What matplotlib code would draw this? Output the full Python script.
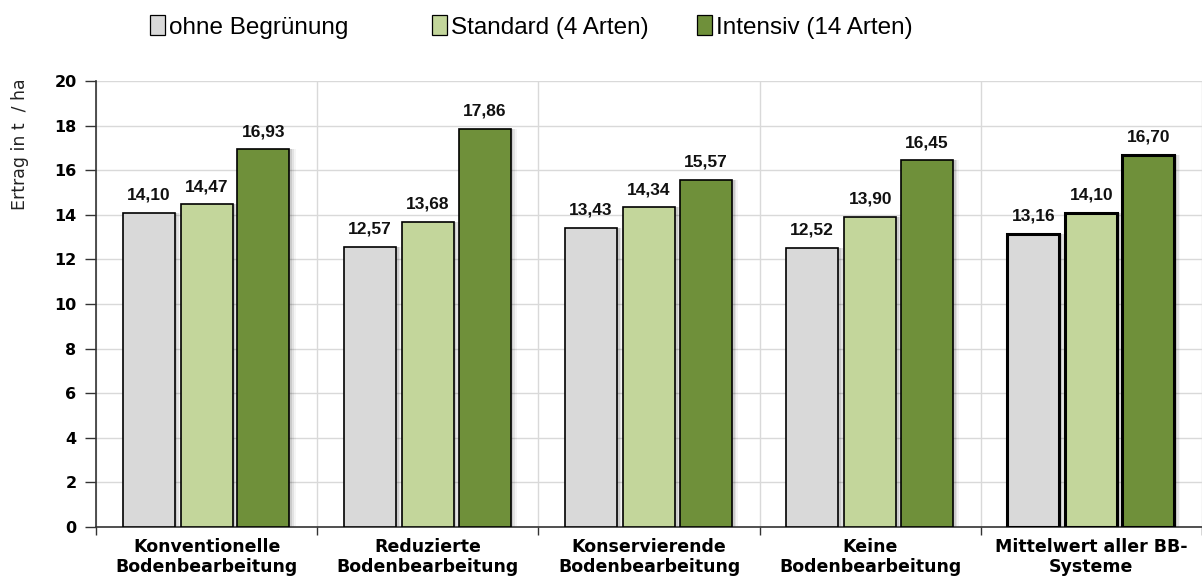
import matplotlib
matplotlib.use("Agg")
import matplotlib.pyplot as plt
import numpy as np
from matplotlib.patches import Patch

categories = ["Konventionelle\nBodenbearbeitung", "Reduzierte\nBodenbearbeitung",
              "Konservierende\nBodenbearbeitung", "Keine\nBodenbearbeitung",
              "Mittelwert aller BB-\nSysteme"]
series_names = ["ohne Begrünung", "Standard (4 Arten)", "Intensiv (14 Arten)"]
ohne = [14.10, 12.57, 13.43, 12.52, 13.16]
standard = [14.47, 13.68, 14.34, 13.90, 14.10]
intensiv = [16.93, 17.86, 15.57, 16.45, 16.70]
yticks = [0, 2, 4, 6, 8, 10, 12, 14, 16, 18, 20]

colors = ["#d9d9d9", "#c3d69b", "#6f903a"]
values = [ohne, standard, intensiv]

fig = plt.figure(figsize=(12.02, 5.81), dpi=100)
ax = fig.add_axes([0.0799, 0.0929, 0.9201, 0.7677])

x = np.arange(len(categories))
offsets = [-0.262, 0.0, 0.257]
width = 0.235

for vals, col, off, name in zip(values, colors, offsets, series_names):
    for i, v in enumerate(vals):
        lw = 2.2 if i == len(categories) - 1 else 1.2
        # soft drop shadow
        for k, a in enumerate([0.10, 0.07, 0.04]):
            ax.bar(x[i] + off + 0.012 + 0.008 * k, v, width, color="black",
                   alpha=a, linewidth=0, zorder=2)
        ax.bar(x[i] + off, v, width, color=col, edgecolor="black",
               linewidth=lw, zorder=3)
        ax.text(x[i] + off, v + 0.45, f"{v:.2f}".replace(".", ","),
                ha="center", va="bottom", fontsize=12.5, fontweight="bold",
                family=["Liberation Sans", "DejaVu Sans"], color="#111111", zorder=4)

ax.set_xlim(-0.5, 4.45)
ax.set_ylim(0, 20)
ax.set_yticks(yticks)
ax.set_yticklabels([str(t) for t in yticks], fontsize=11.5, fontweight="bold")
ax.set_xticks(np.arange(-0.5, 4.6, 1.0), minor=False)
ax.set_xticklabels([])
ax.set_xticks(x, minor=True)
ax.set_xticklabels(categories, minor=True, fontsize=12.5, fontweight="bold",
                   linespacing=1.1, family="DejaVu Sans")
ax.tick_params(axis="x", which="minor", length=0, pad=8)
ax.tick_params(axis="x", which="major", length=6, width=1, color="#333333",
               direction="out")
ax.tick_params(axis="y", length=8, width=1, color="#333333", direction="out", pad=6)

ax.grid(True, axis="y", color="#d9d9d9", linewidth=1, zorder=0)
ax.grid(True, axis="x", which="major", color="#d9d9d9", linewidth=1, zorder=0)
ax.set_axisbelow(True)

for s in ["top", "right"]:
    ax.spines[s].set_visible(False)
ax.spines["left"].set_color("#333333")
ax.spines["bottom"].set_color("#333333")
ax.spines["left"].set_linewidth(1.2)
ax.spines["bottom"].set_linewidth(1.2)

fig.text(20 / 1202, 1 - 144 / 581, "Ertrag in t  / ha", rotation=90,
         ha="center", va="center", fontsize=12.5, family="DejaVu Sans", color="#222222")

# one legend entry per series, each anchored at its own left edge
legend_x = [150, 432, 697]
for c, name, lx in zip(colors, series_names, legend_x):
    h = Patch(facecolor=c, edgecolor="black", linewidth=0.9)
    leg = fig.legend([h], [name], loc="center left",
                     bbox_to_anchor=(lx / 1202, 1 - 27 / 581),
                     frameon=False, borderpad=0, borderaxespad=0,
                     prop={"family": ["Liberation Sans", "DejaVu Sans"], "size": 17.5},
                     handlelength=0.62, handleheight=0.85, handletextpad=0.15)

fig.savefig("out.png", dpi=100)
